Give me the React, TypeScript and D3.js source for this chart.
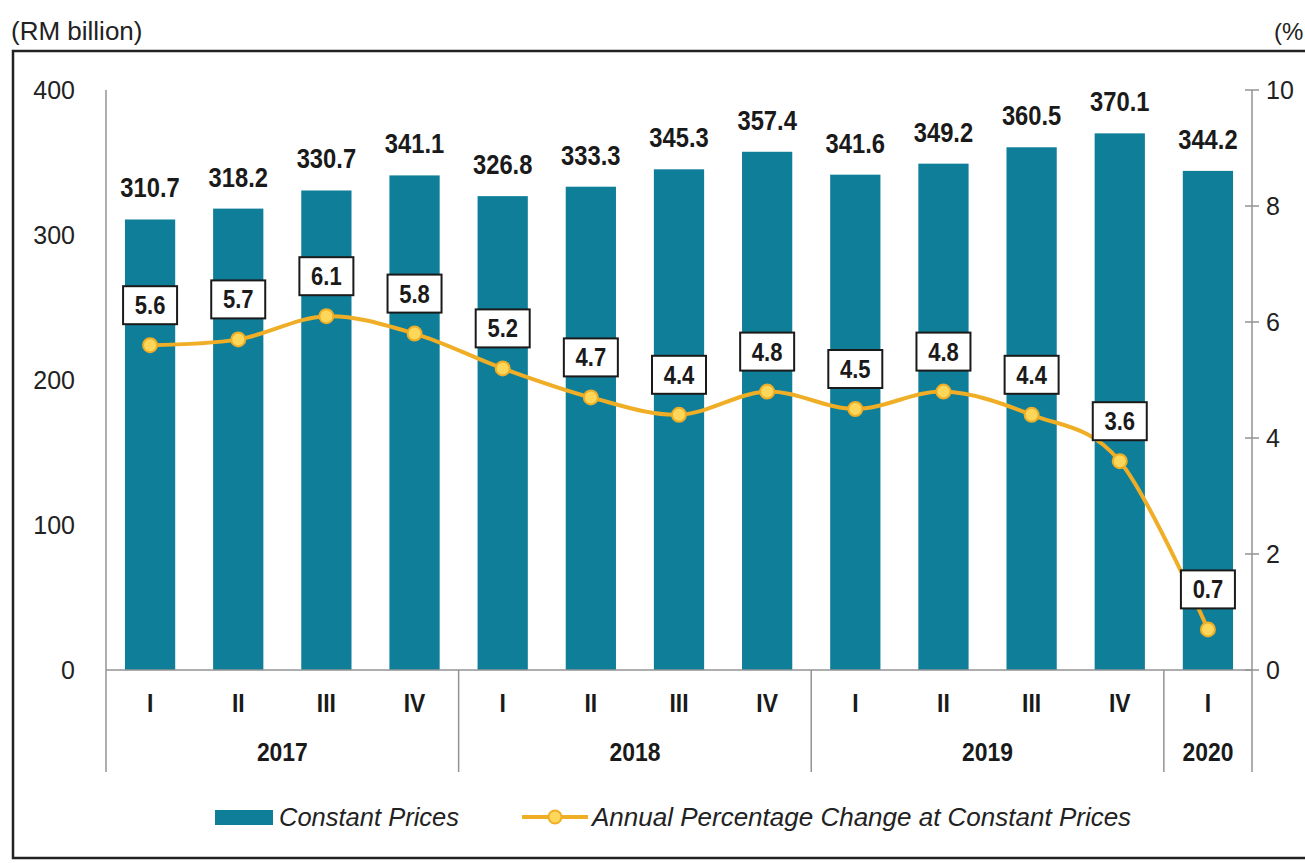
import { useRef, useEffect } from 'react';
import { select, scaleBand, scaleLinear, line, curveCardinal } from 'd3';

// Data
const quarters = ['I', 'II', 'III', 'IV', 'I', 'II', 'III', 'IV', 'I', 'II', 'III', 'IV', 'I'];
const yearLabels = ['2017', '2018', '2019', '2020'];
const quartersPerYear = [4, 4, 4, 1];
const constantPrices = [310.7, 318.2, 330.7, 341.1, 326.8, 333.3, 345.3, 357.4, 341.6, 349.2, 360.5, 370.1, 344.2];
const pctChange = [5.6, 5.7, 6.1, 5.8, 5.2, 4.7, 4.4, 4.8, 4.5, 4.8, 4.4, 3.6, 0.7];
const leftTicks = [0, 100, 200, 300, 400];
const rightTicks = [0, 2, 4, 6, 8, 10];

function App() {
    const svgRef = useRef<SVGSVGElement | null>(null);

    // Dimensions
    const width = 1305;
    const height = 863;
    const left = 106;
    const right = 1252;
    const top = 90;
    const bottom = 670;

    const barColor = '#0f7e99';
    const lineColor = '#efae26';
    const sans = '"Liberation Sans", Arial, sans-serif';
    // Condensed look of the bold labels
    const squeeze = 0.88;

    useEffect(() => {
        const svg = select(svgRef.current);
        svg.selectAll('*').remove();

        const ids = quarters.map((_, i) => String(i));
        const x = scaleBand().domain(ids).range([left, right]).paddingInner(0.43).paddingOuter(0.215);
        const xStep = scaleBand().domain(ids).range([left, right]);
        const yLeft = scaleLinear().domain([0, 400]).range([bottom, top]);
        const yRight = scaleLinear().domain([0, 10]).range([bottom, top]);
        const cx = (i: number) => (x(String(i)) as number) + x.bandwidth() / 2;

        // Frame
        svg.append('rect')
            .attr('x', 13).attr('y', 51).attr('width', 1310).attr('height', 807)
            .attr('fill', 'none').attr('stroke', '#222').attr('stroke-width', 2.5);

        // Unit labels
        svg.append('text').text('(RM billion)')
            .attr('x', 11).attr('y', 40).attr('font-family', sans).attr('font-size', 26).attr('fill', '#222');
        svg.append('text').text('(%')
            .attr('x', 1274).attr('y', 40).attr('font-family', sans).attr('font-size', 24).attr('fill', '#222');

        // Bars
        svg.append('g')
            .selectAll('rect')
            .data(constantPrices)
            .join('rect')
            .attr('x', (d, i) => x(String(i)) as number)
            .attr('y', (d) => yLeft(d))
            .attr('width', x.bandwidth())
            .attr('height', (d) => bottom - yLeft(d))
            .attr('fill', barColor);

        // Bar values
        svg.append('g')
            .selectAll('text')
            .data(constantPrices)
            .join('text')
            .text((d) => d.toFixed(1))
            .attr('transform', (d, i) => `translate(${cx(i)}, ${yLeft(d) - 22}) scale(${squeeze}, 1)`)
            .attr('text-anchor', 'middle')
            .attr('font-family', sans)
            .attr('font-weight', 'bold')
            .attr('font-size', 27)
            .attr('fill', '#1a1a1a');

        // Axes lines
        const axisColor = '#939393';
        svg.append('line')
            .attr('x1', left).attr('x2', left).attr('y1', top).attr('y2', 772)
            .attr('stroke', axisColor).attr('stroke-width', 1.5);
        svg.append('line')
            .attr('x1', right).attr('x2', right).attr('y1', top).attr('y2', 772)
            .attr('stroke', axisColor).attr('stroke-width', 1.5);
        svg.append('line')
            .attr('x1', left).attr('x2', right).attr('y1', bottom).attr('y2', bottom)
            .attr('stroke', axisColor).attr('stroke-width', 1.5);

        // Left tick labels
        svg.append('g')
            .selectAll('text')
            .data(leftTicks)
            .join('text')
            .text((d) => d)
            .attr('x', 75)
            .attr('y', (d) => yLeft(d) + 9)
            .attr('text-anchor', 'end')
            .attr('font-family', sans)
            .attr('font-size', 25)
            .attr('fill', '#222');

        // Right ticks and labels
        svg.append('g')
            .selectAll('line')
            .data(rightTicks)
            .join('line')
            .attr('x1', right - 7).attr('x2', right + 7)
            .attr('y1', (d) => yRight(d)).attr('y2', (d) => yRight(d))
            .attr('stroke', axisColor).attr('stroke-width', 1.5);
        svg.append('g')
            .selectAll('text')
            .data(rightTicks)
            .join('text')
            .text((d) => d)
            .attr('x', 1266)
            .attr('y', (d) => yRight(d) + 9)
            .attr('font-family', sans)
            .attr('font-size', 25)
            .attr('fill', '#222');

        // Quarter labels
        svg.append('g')
            .selectAll('text')
            .data(quarters)
            .join('text')
            .text((d) => d)
            .attr('transform', (d, i) => `translate(${(xStep(String(i)) as number) + xStep.bandwidth() / 2}, 712) scale(${squeeze}, 1)`)
            .attr('text-anchor', 'middle')
            .attr('font-family', sans)
            .attr('font-weight', 'bold')
            .attr('font-size', 26)
            .attr('fill', '#1a1a1a');

        // Year separators and labels
        const starts: number[] = [];
        quartersPerYear.reduce((acc, n) => {
            starts.push(acc);
            return acc + n;
        }, 0);
        svg.append('g')
            .selectAll('line')
            .data(starts.slice(1))
            .join('line')
            .attr('x1', (d) => xStep(String(d)) as number)
            .attr('x2', (d) => xStep(String(d)) as number)
            .attr('y1', bottom).attr('y2', 772)
            .attr('stroke', axisColor).attr('stroke-width', 1.5);
        svg.append('g')
            .selectAll('text')
            .data(yearLabels)
            .join('text')
            .text((d) => d)
            .attr('transform', (d, i) => {
                const s = xStep(String(starts[i])) as number;
                return `translate(${s + (quartersPerYear[i] * xStep.step()) / 2}, 761) scale(${squeeze}, 1)`;
            })
            .attr('text-anchor', 'middle')
            .attr('font-family', sans)
            .attr('font-weight', 'bold')
            .attr('font-size', 26)
            .attr('fill', '#1a1a1a');

        // Percentage line
        const path = line<number>()
            .x((d, i) => cx(i))
            .y((d) => yRight(d))
            .curve(curveCardinal.tension(0));
        svg.append('path')
            .datum(pctChange)
            .attr('d', path)
            .attr('fill', 'none')
            .attr('stroke', lineColor)
            .attr('stroke-width', 4);
        svg.append('g')
            .selectAll('circle')
            .data(pctChange)
            .join('circle')
            .attr('cx', (d, i) => cx(i))
            .attr('cy', (d) => yRight(d))
            .attr('r', 7)
            .attr('fill', '#fcd75a')
            .attr('stroke', lineColor)
            .attr('stroke-width', 2);

        // Percentage label boxes
        const boxes = svg.append('g')
            .selectAll('g')
            .data(pctChange)
            .join('g')
            .attr('transform', (d, i) => `translate(${cx(i)}, ${yRight(d) - 40})`);
        boxes.append('rect')
            .attr('x', -27).attr('y', -19).attr('width', 54).attr('height', 38)
            .attr('fill', 'white').attr('stroke', '#1a1a1a').attr('stroke-width', 2);
        boxes.append('text')
            .text((d) => d.toFixed(1))
            .attr('transform', `translate(0, 9) scale(${squeeze}, 1)`)
            .attr('text-anchor', 'middle')
            .attr('font-family', sans)
            .attr('font-weight', 'bold')
            .attr('font-size', 25)
            .attr('fill', '#1a1a1a');

        // Legend
        const legendY = 817;
        svg.append('rect')
            .attr('x', 215).attr('y', legendY - 7).attr('width', 58).attr('height', 15)
            .attr('fill', barColor);
        svg.append('text').text('Constant Prices')
            .attr('x', 279).attr('y', legendY + 9)
            .attr('font-family', sans).attr('font-style', 'italic').attr('font-size', 25.5).attr('fill', '#222');
        svg.append('line')
            .attr('x1', 522).attr('x2', 588).attr('y1', legendY).attr('y2', legendY)
            .attr('stroke', lineColor).attr('stroke-width', 4);
        svg.append('circle')
            .attr('cx', 555).attr('cy', legendY).attr('r', 6.5)
            .attr('fill', '#fcd75a').attr('stroke', lineColor).attr('stroke-width', 2);
        svg.append('text').text('Annual Percentage Change at Constant Prices')
            .attr('x', 592).attr('y', legendY + 9)
            .attr('font-family', sans).attr('font-style', 'italic').attr('font-size', 26).attr('fill', '#222');
    }, []);

    return (
        <svg
            ref={svgRef}
            width={width}
            height={height}
            style={{ position: 'absolute', left: 0, top: 0, background: 'white' }}
        ></svg>
    );
}

export default App;
